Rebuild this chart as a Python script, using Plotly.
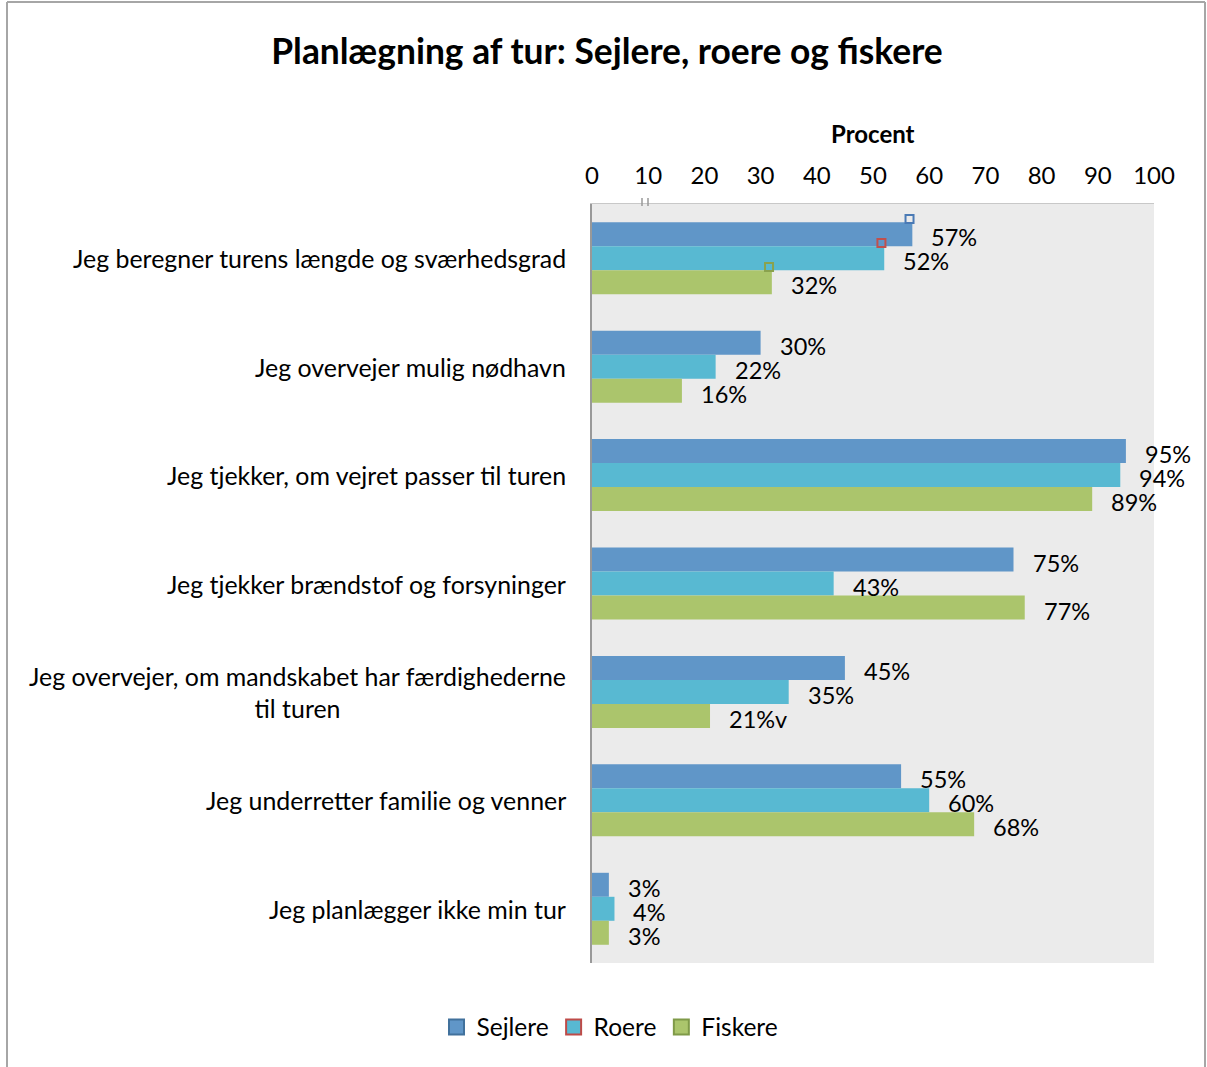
import plotly.graph_objects as go

# ---------------- data ----------------
title = "Planlægning af tur: Sejlere, roere og fiskere"
categories = [
    "Jeg beregner turens længde og sværhedsgrad",
    "Jeg overvejer mulig nødhavn",
    "Jeg tjekker, om vejret passer til turen",
    "Jeg tjekker brændstof og forsyninger",
    "Jeg overvejer, om mandskabet har færdighederne<br>til turen",
    "Jeg underretter familie og venner",
    "Jeg planlægger ikke min tur",
]
series_names = ["Sejlere", "Roere", "Fiskere"]
sejlere = [57, 30, 95, 75, 45, 55, 3]
roere = [52, 22, 94, 43, 35, 60, 4]
fiskere = [32, 16, 89, 77, 21, 68, 3]
sejlere_labels = ["57%", "30%", "95%", "75%", "45%", "55%", "3%"]
roere_labels = ["52%", "22%", "94%", "43%", "35%", "60%", "4%"]
fiskere_labels = ["32%", "16%", "89%", "77%", "21%v", "68%", "3%"]
x_ticks = [0, 10, 20, 30, 40, 50, 60, 70, 80, 90, 100]
x_title = "Procent"

# ---------------- styling ----------------
W, H = 1207, 1067
L, R, T, B = 592, 53, 204, 104
FONT = "Lato"
fill_colors = ["#6096c8", "#58b9d2", "#abc56c"]
legend_borders = ["#41719c", "#be4b48", "#7f9a48"]
marker_borders = ["#4a7ab5", "#c0504d", "#8aa24e"]
BARGAP = 0.336

values = [sejlere, roere, fiskere]
labels = [sejlere_labels, roere_labels, fiskere_labels]
idx = list(range(len(categories)))
n = len(series_names)
bw = (1 - BARGAP) / n

fig = go.Figure()
for k in range(n):
    fig.add_trace(go.Bar(
        y=idx, x=values[k], orientation="h", name=series_names[k],
        marker=dict(color=fill_colors[k], line=dict(width=0)),
        showlegend=False, hoverinfo="skip",
    ))

# small hollow square markers seen on first category
mk_x = [values[k][0] - 0.5 for k in range(n)]
mk_y = [0 - (1 - BARGAP) / 2 + k * bw - 0.03 for k in range(n)]
fig.add_trace(go.Scatter(
    x=mk_x, y=mk_y, mode="markers", showlegend=False, hoverinfo="skip",
    marker=dict(symbol="square-open", size=8, color=marker_borders,
                line=dict(width=2, color=marker_borders)),
    cliponaxis=False,
))

# legend entries
for k in range(n):
    fig.add_trace(go.Scatter(
        x=[None], y=[None], mode="markers", name=series_names[k],
        marker=dict(symbol="square", size=15, color=fill_colors[k],
                    line=dict(width=2, color=legend_borders[k])),
    ))

annotations = []
# data labels
for k in range(n):
    for i in idx:
        yc = i - (1 - BARGAP) / 2 + (k + 0.5) * bw
        annotations.append(dict(
            x=values[k][i], y=yc, xref="x", yref="y", text=labels[k][i],
            showarrow=False, xanchor="left", yanchor="middle",
            xshift=17, yshift=-3, font=dict(family=FONT, size=23.5, color="#000"),
        ))
# category labels
for i in idx:
    annotations.append(dict(
        x=0, y=i, xref="paper", yref="y", text=categories[i],
        showarrow=False, xanchor="right", yanchor="middle", align="center",
        xshift=-24, font=dict(family=FONT, size=24.9, color="#000"),
    ))
# axis title
annotations.append(dict(
    x=0.5, y=1, xref="paper", yref="paper", text="<b>" + x_title + "</b>",
    showarrow=False, xanchor="center", yanchor="middle", yshift=71,
    font=dict(family=FONT, size=24, color="#000"),
))

pw, ph = W - L - R, H - T - B
def px_x(p):
    return (p - L) / pw
def px_y(p):
    return (H - B - p) / ph

bc = "#a6a6a6"
shapes = [
    dict(type="line", xref="paper", yref="paper", x0=px_x(7), x1=px_x(1205),
         y0=px_y(2), y1=px_y(2), line=dict(color=bc, width=2)),
    dict(type="line", xref="paper", yref="paper", x0=px_x(7), x1=px_x(7),
         y0=px_y(2), y1=px_y(1080), line=dict(color=bc, width=2)),
    dict(type="line", xref="paper", yref="paper", x0=px_x(1205), x1=px_x(1205),
         y0=px_y(2), y1=px_y(1080), line=dict(color=bc, width=2)),
    # small double tick near "10"
    dict(type="line", xref="paper", yref="paper", x0=px_x(642), x1=px_x(642),
         y0=px_y(198), y1=px_y(206), line=dict(color="#999999", width=1.5)),
    dict(type="line", xref="paper", yref="paper", x0=px_x(648), x1=px_x(648),
         y0=px_y(198), y1=px_y(206), line=dict(color="#999999", width=1.5)),
]

fig.update_layout(
    width=W, height=H,
    margin=dict(l=L, r=R, t=T, b=B, pad=0),
    paper_bgcolor="white", plot_bgcolor="#ebebeb",
    barmode="group", bargap=BARGAP, bargroupgap=0,
    title=dict(text="<b>" + title + "</b>", x=607 / W, xanchor="center",
               y=1 - 52 / H, yanchor="middle", yref="container",
               font=dict(family=FONT, size=35.4, color="#000")),
    xaxis=dict(side="top", range=[0, 100], tickvals=x_ticks,
               ticktext=[str(t) for t in x_ticks], showgrid=False,
               zeroline=False, showline=True, linecolor="#c8c8c8", linewidth=1,
               ticks="", ticklabelstandoff=9,
               tickfont=dict(family=FONT, size=24, color="#000")),
    yaxis=dict(range=[len(categories) - 0.5, -0.5], showticklabels=False,
               showgrid=False, zeroline=False, showline=True,
               linecolor="#999999", linewidth=2, ticks=""),
    legend=dict(orientation="h", x=px_x(610), xanchor="center",
                y=px_y(1027), yanchor="middle",
                font=dict(family=FONT, size=24.5, color="#000"),
                itemwidth=30, bgcolor="rgba(0,0,0,0)"),
    annotations=annotations,
    shapes=shapes,
    font=dict(family=FONT, color="#000"),
)

fig.write_html("out.html", config={"displayModeBar": False},
               post_script="document.body.style.margin='0';")
